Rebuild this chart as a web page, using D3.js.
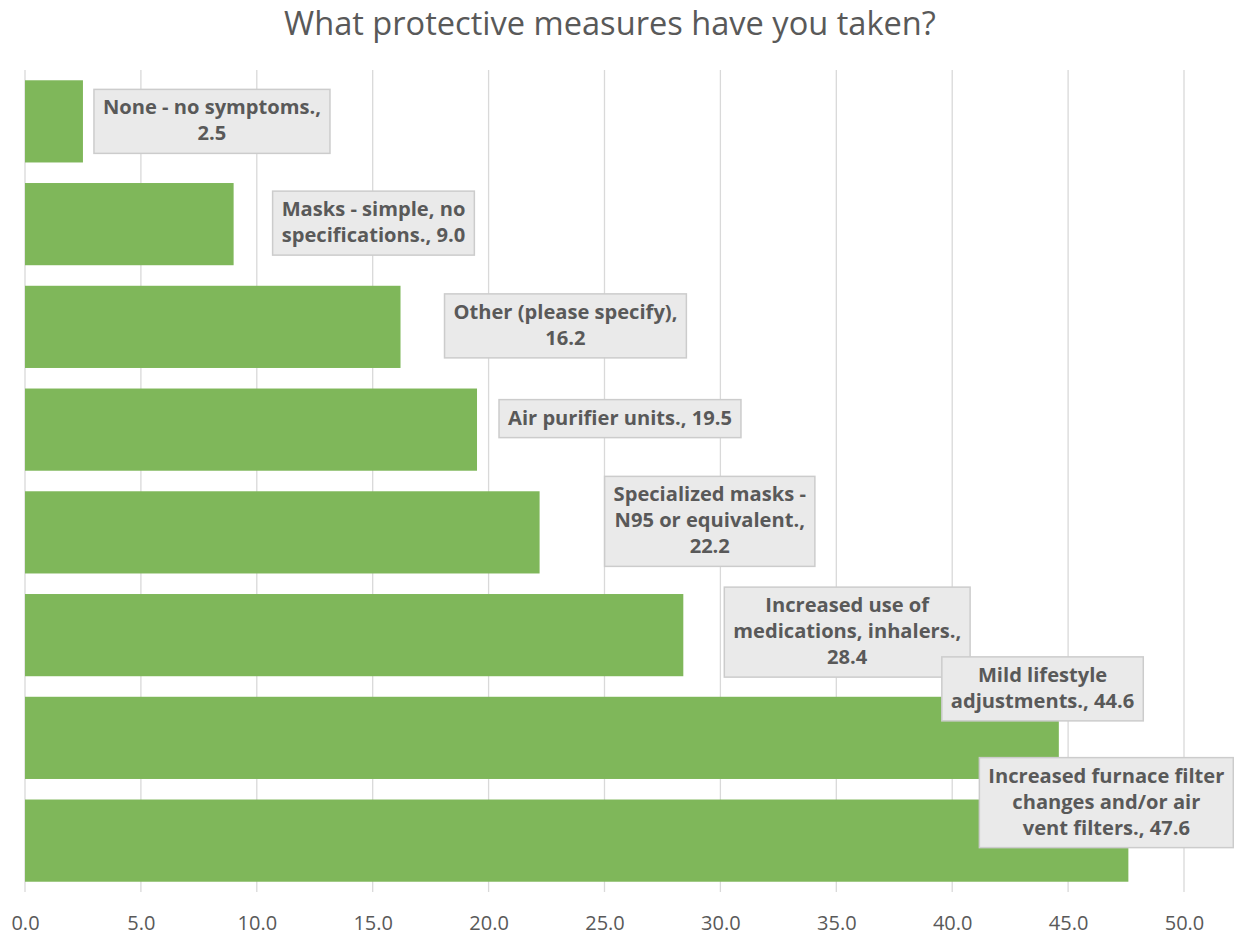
<!DOCTYPE html>
<html>
<head>
<meta charset="utf-8">
<script src="https://cdn.jsdelivr.net/npm/d3@7"></script>
<style>
  html, body { margin: 0; padding: 0; background: #ffffff; }
  svg { display: block; }
</style>
</head>
<body>
<svg id="chart" width="1234" height="935"></svg>
<script>
// Survey answers, top to bottom
const categories = [
  "None - no symptoms.",
  "Masks - simple, no specifications.",
  "Other (please specify)",
  "Air purifier units.",
  "Specialized masks - N95 or equivalent.",
  "Increased use of medications, inhalers.",
  "Mild lifestyle adjustments.",
  "Increased furnace filter changes and/or air vent filters."
];
const values = [2.5, 9.0, 16.2, 19.5, 22.2, 28.4, 44.6, 47.6];

// Wrapped text of each data label (category name + value)
const labelLines = [
  ["None - no symptoms.,", "2.5"],
  ["Masks - simple, no", "specifications., 9.0"],
  ["Other (please specify),", "16.2"],
  ["Air purifier units., 19.5"],
  ["Specialized masks -", "N95 or equivalent.,", "22.2"],
  ["Increased use of", "medications, inhalers.,", "28.4"],
  ["Mild lifestyle", "adjustments., 44.6"],
  ["Increased furnace filter", "changes and/or air", "vent filters., 47.6"]
];

const xTicks = [0, 5, 10, 15, 20, 25, 30, 35, 40, 45, 50];
const title = "What protective measures have you taken?";

// Label placement: horizontal shift of the box's left edge from the bar end,
// vertical shift of the box centre from the bar centre (pixels)
const labelShift = [
  [11, 0], [39, -1], [44, -1], [22, -11],
  [65, -11], [41, -3], [-117, -49], [-149, -38]
];

const FONT = "'Open Sans', Lato, sans-serif";
const TEXT = "#595959";
const GREEN = "#7fb75a";
const GRID = "#d9d9d9";

const svg = d3.select("#chart");
const margin = { left: 25, right: 50, top: 70, bottom: 43 };
const W = 1234, H = 935;

const x = d3.scaleLinear().domain([0, 50]).range([margin.left, W - margin.right]);
const y = d3.scaleBand().domain(categories)
  .range([margin.top, H - margin.bottom])
  .paddingInner(0.2).paddingOuter(0.1);

// Title, sized to span its 652px line
const titleEl = svg.append("text")
  .attr("x", 610).attr("y", 35)
  .attr("text-anchor", "middle")
  .attr("font-family", FONT).attr("font-size", 28)
  .attr("fill", TEXT)
  .text(title);
const tw = titleEl.node().getComputedTextLength();
titleEl.attr("font-size", 28 * 652 / tw);

// Vertical gridlines
svg.append("g")
  .selectAll("line")
  .data(xTicks)
  .join("line")
  .attr("x1", d => x(d)).attr("x2", d => x(d))
  .attr("y1", margin.top).attr("y2", H - margin.bottom)
  .attr("stroke", GRID).attr("stroke-width", 1.3);

// Value axis labels
const xAxis = d3.axisBottom(x).tickValues(xTicks).tickFormat(d3.format(".1f")).tickSize(0).tickPadding(0);
const gx = svg.append("g")
  .attr("transform", `translate(0, ${H - margin.bottom})`)
  .call(xAxis);
gx.select(".domain").remove();
gx.selectAll("text")
  .attr("font-family", FONT).attr("font-size", 20)
  .attr("fill", TEXT)
  .attr("dy", null)
  .attr("y", 38);

// Bars
svg.append("g")
  .selectAll("rect")
  .data(values)
  .join("rect")
  .attr("x", x(0))
  .attr("y", (d, i) => y(categories[i]))
  .attr("width", d => x(d) - x(0))
  .attr("height", y.bandwidth())
  .attr("fill", GREEN);

// Label font size: "Air purifier units., 19.5" spans 224px
const probe = svg.append("text")
  .attr("font-family", FONT).attr("font-size", 18).attr("font-weight", 700)
  .text(labelLines[3][0]);
const labelSize = 18 * 224 / probe.node().getComputedTextLength();
probe.remove();

// Data label callout boxes
const lineH = 26, padX = 9, padY = 6;
const lab = svg.append("g")
  .selectAll("g")
  .data(values)
  .join("g");

lab.each(function (d, i) {
  const g = d3.select(this);
  const lines = labelLines[i];
  const t = g.append("text")
    .attr("font-family", FONT).attr("font-size", labelSize).attr("font-weight", 700)
    .attr("fill", TEXT).attr("text-anchor", "middle");
  lines.forEach((ln, k) => {
    t.append("tspan").attr("x", 0).attr("y", k * lineH).text(ln);
  });
  let maxW = 0;
  t.selectAll("tspan").each(function () {
    maxW = Math.max(maxW, this.getComputedTextLength());
  });
  const boxW = maxW + 2 * padX;
  const boxH = lines.length * lineH + 2 * padY;
  const left = x(d) + labelShift[i][0];
  const cy = y(categories[i]) + y.bandwidth() / 2 + labelShift[i][1];
  const cx = left + boxW / 2;
  g.insert("rect", "text")
    .attr("x", left).attr("y", cy - boxH / 2)
    .attr("width", boxW).attr("height", boxH)
    .attr("fill", "#eaeaea").attr("stroke", "#cccccc").attr("stroke-width", 1.5);
  // first baseline so the block of lines sits centred in the box
  const firstBase = cy - (lines.length * lineH) / 2 + lineH * 0.73;
  t.attr("transform", `translate(${cx}, ${firstBase})`);
});
</script>
</body>
</html>
